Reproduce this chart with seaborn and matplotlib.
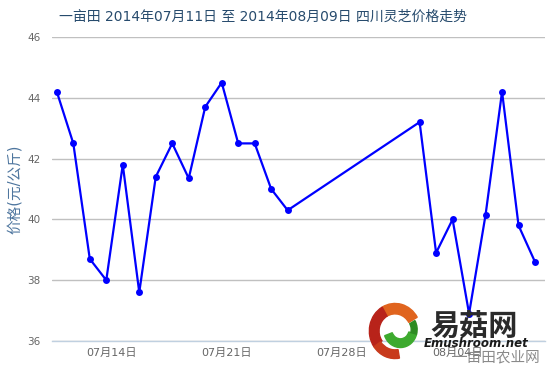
import matplotlib
matplotlib.use("Agg")
import matplotlib.pyplot as plt
from matplotlib.patches import Wedge
import seaborn as sns
import pandas as pd

dates = ["2014-07-11", "2014-07-12", "2014-07-13", "2014-07-14", "2014-07-15",
         "2014-07-16", "2014-07-17", "2014-07-18", "2014-07-19", "2014-07-20",
         "2014-07-21", "2014-07-22", "2014-07-23", "2014-07-24", "2014-07-25",
         "2014-08-02", "2014-08-03", "2014-08-04", "2014-08-05", "2014-08-06",
         "2014-08-07", "2014-08-08", "2014-08-09"]
prices = [44.2, 42.5, 38.7, 38.0, 41.8, 37.6, 41.4, 42.5, 41.35, 43.7,
          44.5, 42.5, 42.5, 41.0, 40.3,
          43.2, 38.9, 40.0, 36.9, 40.15, 44.2, 39.8, 38.6]
tick_dates = ["2014-07-14", "2014-07-21", "2014-07-28", "2014-08-04"]
tick_labels = ["07月14日", "07月21日", "07月28日", "08月04日"]
y_ticks = [36, 38, 40, 42, 44, 46]
title = "一亩田 2014年07月11日 至 2014年08月09日 四川灵芝价格走势"
ylabel = "价格(元/公斤)"

sns.set_style("white")
plt.rcParams['font.family'] = ['DejaVu Sans', 'Noto Sans CJK SC']

df = pd.DataFrame({"date": pd.to_datetime(dates), "price": prices})

fig = plt.figure(figsize=(5.5, 3.67), dpi=100)
ax = fig.add_axes([52/550, 1-341/367, (545-52)/550, (341-37)/367])

sns.lineplot(data=df, x="date", y="price", ax=ax, color="#0000FF",
             linewidth=1.6, marker="o", markersize=5, markeredgewidth=0)

ax.set_ylim(36, 46)
ax.set_yticks(y_ticks)
ax.set_yticklabels([str(v) for v in y_ticks])
x0 = pd.Timestamp(dates[0]) - pd.Timedelta(hours=7)
x1 = pd.Timestamp(dates[-1]) + pd.Timedelta(hours=14.5)
ax.set_xlim(x0, x1)
ax.set_xticks(pd.to_datetime(tick_dates) + pd.Timedelta(hours=7))
ax.set_xticklabels(tick_labels)

ax.grid(axis="y", color="#C0C0C0", linewidth=1)
ax.grid(axis="x", visible=False)
for s in ["left", "right", "top"]:
    ax.spines[s].set_visible(False)
ax.spines["bottom"].set_color("#C0D0E0")
ax.spines["bottom"].set_linewidth(1)
ax.tick_params(axis="y", length=0, labelsize=7.5, labelcolor="#666666", pad=8)
ax.tick_params(axis="x", length=4, color="#C0D0E0", labelsize=8, labelcolor="#666666", pad=1)
ax.set_xlabel("")
ax.set_ylabel(ylabel, color="#4d759e", fontsize=10.5, labelpad=4)

fig.text(0.478, 0.953, title, ha="center", va="center", fontsize=10, color="#274b6d")

# watermark logo
lax = fig.add_axes([368/550, 1-360/367, 54/550, 58/367])
lax.set_xlim(-1, 1)
lax.set_ylim(-1, 1)
lax.axis("off")
lax.add_patch(Wedge((0, 0), 0.95, 30, 120, width=0.36, color="#E0641E"))
lax.add_patch(Wedge((0, 0), 0.95, 120, 215, width=0.36, color="#B8231A"))
lax.add_patch(Wedge((0, 0), 0.95, 215, 280, width=0.30, color="#C83A1C"))
lax.add_patch(Wedge((0.2, 0.05), 0.62, 200, 345, width=0.30, color="#3DAA2E"))
lax.add_patch(Wedge((0.2, 0.05), 0.62, 345, 30, width=0.22, color="#2E8B22"))

fig.text(0.982, 0.025, "一亩田农业网", ha="right", va="center", fontsize=10.5, color="#8a8a8a",
         family=['Noto Sans CJK SC', 'DejaVu Sans'])
fig.text(0.862, 0.112, "易菇网", ha="center", va="center", fontsize=21, color="#2a2a2a",
         fontweight="bold", style="italic", family=['Noto Sans CJK SC', 'DejaVu Sans'])
fig.text(0.865, 0.065, "Emushroom.net", ha="center", va="center", fontsize=8.5, color="#1a1a1a",
         fontweight="bold", style="italic")

fig.savefig("out.png", dpi=100)
